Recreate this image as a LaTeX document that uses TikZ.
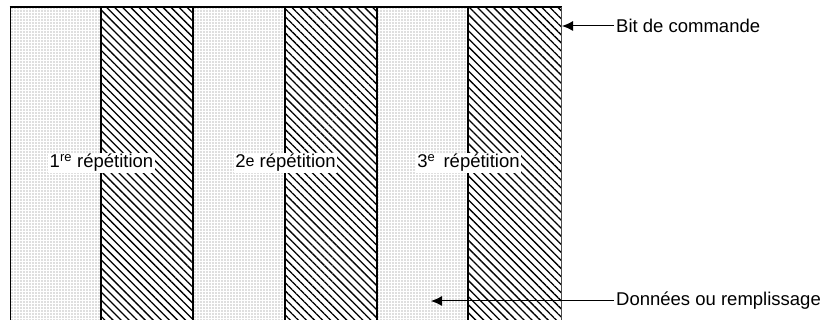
\documentclass[tikz,border=0pt]{standalone}
\usepackage{fontspec}
\setmainfont{Liberation Sans}
\usetikzlibrary{patterns.meta,arrows.meta}
\tikzset{
  dotcol/.style={pattern={Dots[distance=3pt,radius=0.6pt]},pattern color=black!55},
  hatchcol/.style={pattern={Lines[angle=-45,distance=5.7pt,line width=1.3pt]},pattern color=black},
  divider/.style={line width=2pt,black},
  replabel/.style={fill=white,inner sep=1.5pt,font=\fontsize{18.5}{22}\selectfont},
  sidelabel/.style={inner sep=2pt,anchor=west,font=\fontsize{18.5}{22}\selectfont},
  pointer/.style={line width=1pt,-{Latex[length=11pt,width=10pt]}}
}
\begin{document}
\begin{tikzpicture}[x=1pt,y=-1pt]
\useasboundingbox (0,0) rectangle (831,320);
% columns
\fill[dotcol]   (10,7) rectangle (101,321);
\fill[hatchcol] (101,7) rectangle (193,321);
\fill[dotcol]   (193,7) rectangle (285,321);
\fill[hatchcol] (285,7) rectangle (377,321);
\fill[dotcol]   (377,7) rectangle (468,321);
\fill[hatchcol] (468,7) rectangle (561,321);
% borders
\draw[line width=1pt] (10,321) -- (10,7);
\draw[divider] (9.5,7) -- (562,7);
\foreach \xx in {101,193,285,377,468}
  \draw[divider] (\xx,7) -- (\xx,321);
\draw[line width=1pt,black!70] (561.5,7) -- (561.5,321);
% labels
\node[replabel] (rep1) at (101.5,163) {1\textsuperscript{re} répétition};
\node[replabel] (rep2) at (285.5,163) {2\raisebox{1.5pt}{\fontsize{16}{16}\selectfont e} répétition};
\node[replabel] (rep3) at (468.5,163) {3\textsuperscript{e}\, répétition};
% side labels
\coordinate (bittip) at (562,26);
\node[sidelabel] (bit) at (614,26) {Bit de commande};
\draw[pointer] (bit.west) -- (bittip);
\coordinate (dontip) at (431,301);
\node[sidelabel] (don) at (614,301) {Données ou remplissage};
\draw[pointer] (don.west) -- (dontip);
\end{tikzpicture}
\end{document}
